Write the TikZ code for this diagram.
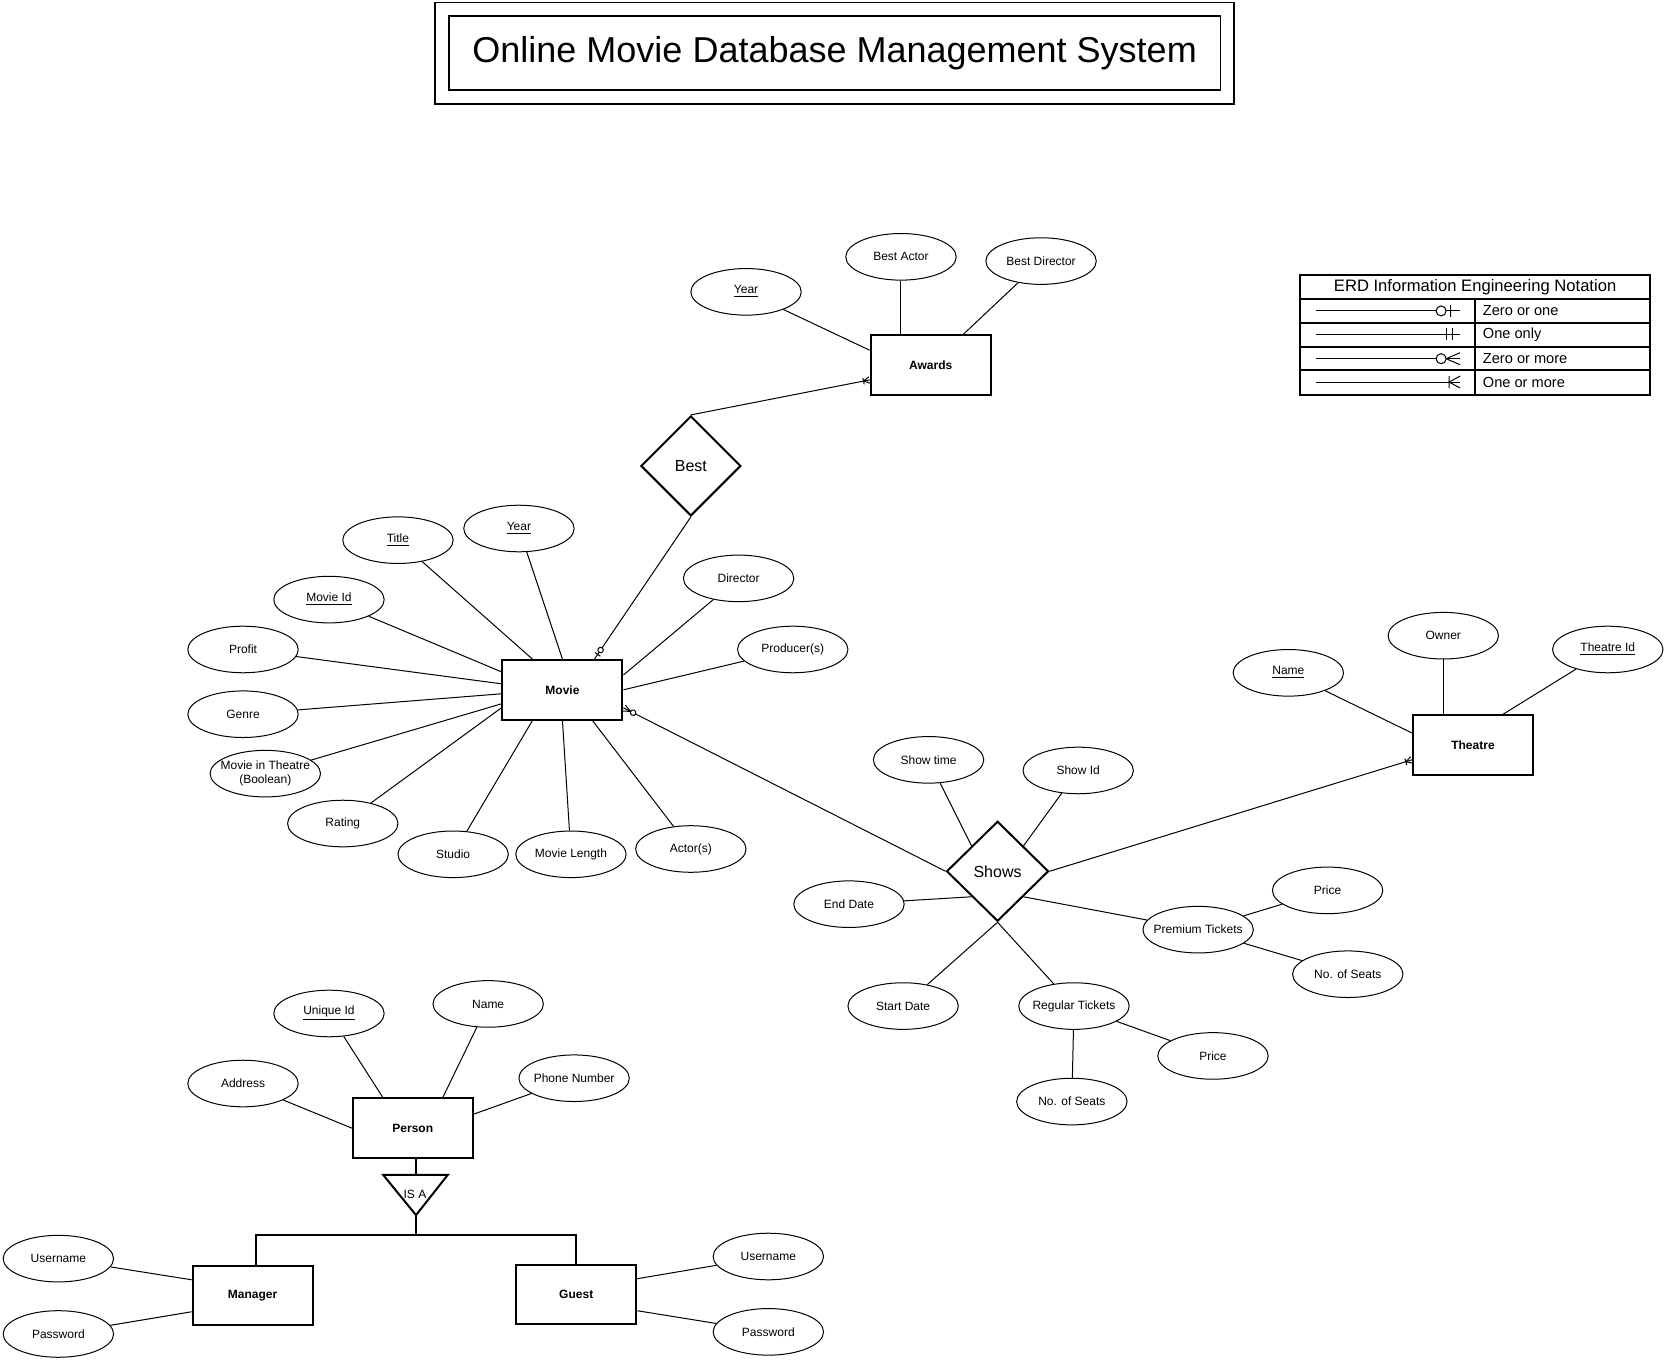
\documentclass[tikz,border=0pt]{standalone}
\usepackage{fontspec}
\setmainfont{Liberation Sans}
\usepackage{tikz}
\usetikzlibrary{shapes,decorations.markings}

\begin{document}
\begin{tikzpicture}[x=0.5306pt,y=-0.5306pt,
  zeroone/.style={postaction={decorate,decoration={markings,mark=at position 0.999 with {
      \draw[scale=#1,fill=white] (-4.8pt,-3pt) -- (-4.8pt,3pt) (-9.5pt,0) circle (2.5pt);}}}},
  oneonly/.style={postaction={decorate,decoration={markings,mark=at position 0.999 with {
      \draw[scale=#1] (-6.6pt,-3pt) -- (-6.6pt,3pt) (-3.7pt,-3pt) -- (-3.7pt,3pt);}}}},
  zeromany/.style={postaction={decorate,decoration={markings,mark=at position 0.999 with {
      \draw[scale=#1] (0,-3pt) -- (-7pt,0) -- (0,3pt);
      \draw[scale=#1,fill=white] (-9.5pt,0) circle (2.5pt);}}}},
  onemany/.style={postaction={decorate,decoration={markings,mark=at position 0.999 with {
      \draw[scale=#1] (0,-3pt) -- (-5.5pt,0) -- (0,3pt) (-5.5pt,-3pt) -- (-5.5pt,3pt);}}}}]
  \tikzstyle{entity}=[rectangle,draw,line width=1pt,minimum width=60pt,minimum height=29.7pt,
                      font=\fontsize{6}{7}\selectfont\bfseries]
  \tikzstyle{attr}=[ellipse,draw,line width=0.5pt,minimum width=55.2pt,minimum height=23.3pt,
                    inner sep=0pt,inner xsep=-6pt,align=center,font=\fontsize{6}{7}\selectfont]
  \tikzstyle{relation}=[diamond,draw,line width=1pt,minimum width=50pt,minimum height=50pt,
                        inner sep=0pt,font=\fontsize{8}{9}\selectfont]
  \tikzstyle{every edge}=[draw,line width=0.5pt]
  \tikzstyle{link}=[line width=0.5pt]
  \tikzstyle{legline}=[line width=0.9pt]

  \useasboundingbox (0,0) rectangle (1568,1284);

  % title
  \node [draw,line width=0.8pt,minimum width=385.8pt,minimum height=37.1pt,
         font=\fontsize{18}{22}\selectfont] (title) at (786.5,50) {Online Movie Database Management System};
  \draw [line width=0.8pt] ([shift={(-6.4pt,6.4pt)}]title.north west)
        rectangle ([shift={(6.4pt,-6.4pt)}]title.south east);

  % legend
  \draw [legline] (1225,259) rectangle (1555,372);
  \draw [legline] (1225,282) -- (1555,282) (1225,304) -- (1555,304)
                  (1225,327) -- (1555,327) (1225,349) -- (1555,349) (1390,282) -- (1390,372);
  \node [font=\fontsize{8.3}{10}\selectfont] (legend) at (1390,271) {ERD Information Engineering Notation};
  \draw [link,zeroone=1]  (1240,293) -- (1376,293);
  \draw [link,oneonly=1]  (1240,315) -- (1376,315);
  \draw [link,zeromany=1] (1240,338) -- (1376,338);
  \draw [link,onemany=1]  (1240,360) -- (1376,360);
  \node [anchor=west,inner sep=0pt,font=\fontsize{7.3}{9}\selectfont] (zo) at (1397,293) {Zero or one};
  \node [anchor=west,inner sep=0pt,font=\fontsize{7.3}{9}\selectfont] (oo) at (1397,315) {One only};
  \node [anchor=west,inner sep=0pt,font=\fontsize{7.3}{9}\selectfont] (zm) at (1397,338) {Zero or more};
  \node [anchor=west,inner sep=0pt,font=\fontsize{7.3}{9}\selectfont] (om) at (1397,360) {One or more};

  % awards
  \node [entity] (awards) at (877,344) {Awards};
  \node [attr] (awyear) at (703,275) {\underline{Year}} edge ([yshift=7.4pt]awards.west);
  \node [attr] (bestactor) at (849,242) {Best Actor};
  \node [attr] (bestdirector) at (981,246) {Best Director} edge (awards);
  \draw [link] (bestactor) -- (bestactor |- awards.north);

  \node [relation] (best) at (651,439) {Best};

  % movie
  \node [entity] (movie) at (530,650) {Movie};
  \node [attr] (mvtitle) at (375,509) {\underline{Title}} edge ([xshift=-15pt]movie.north);
  \node [attr] (mvyear) at (489,498) {\underline{Year}} edge (movie.north);
  \node [attr] (movieid) at (310,565) {\underline{Movie Id}} edge ([yshift=9pt]movie.west);
  \node [attr] (profit) at (229,612) {Profit} edge ([yshift=3pt]movie.west);
  \node [attr] (genre) at (229,673) {Genre} edge ([yshift=-2pt]movie.west);
  \node [attr] (intheatre) at (250,729) {Movie in Theatre\\(Boolean)} edge ([yshift=-7pt]movie.west);
  \node [attr] (rating) at (323,776) {Rating} edge ([yshift=-9pt]movie.west);
  \node [attr] (studio) at (427,805) {Studio} edge ([xshift=-15pt]movie.south);
  \node [attr] (length) at (538,805) {Movie Length} edge (movie.south);
  \node [attr] (actors) at (651,800) {Actor(s)} edge ([xshift=15pt]movie.south);
  \node [attr] (director) at (696,545) {Director} edge ([yshift=7.4pt]movie.east);
  \node [attr] (producers) at (747,612) {Producer(s)} edge (movie.east);

  \draw [link,onemany=0.55] (best.north) -- ([yshift=-7.4pt]awards.west);
  \draw [link,zeroone=0.55] (best.south) -- ([xshift=16pt]movie.north);

  % theatre
  \node [entity] (theatre) at (1388,702) {Theatre};
  \node [attr] (thname) at (1214,634) {\underline{Name}} edge ([yshift=6pt]theatre.west);
  \node [attr] (owner) at (1360,599) {Owner};
  \node [attr] (theatreid) at (1515,612) {\underline{Theatre Id}} edge ([xshift=15pt]theatre.north);
  \draw [link] (owner) -- (owner |- theatre.north);

  % shows
  \node [relation,minimum width=51pt] (shows) at (940,821) {Shows};
  \node [attr] (showtime) at (875,716) {Show time} edge (shows.north west);
  \node [attr] (showid) at (1016,726) {Show Id} edge (shows.north east);
  \node [attr] (enddate) at (800,852) {End Date} edge (shows.south west);
  \node [attr] (startdate) at (851,948) {Start Date} edge (shows.south);
  \node [attr] (regular) at (1012,948) {Regular Tickets} edge (shows.south);
  \node [attr] (premium) at (1129,876) {Premium Tickets} edge (shows.south east);
  \node [attr] (prprice) at (1251,839) {Price} edge (premium);
  \node [attr] (prseats) at (1270,918) {No. of Seats} edge (premium);
  \node [attr] (rgprice) at (1143,995) {Price} edge (regular);
  \node [attr] (rgseats) at (1010,1038) {No. of Seats} edge (regular);

  \draw [link,zeromany=0.55] (shows.west) -- ([yshift=-9pt]movie.east);
  \draw [link,onemany=0.55] (shows.east) -- ([yshift=-7.4pt]theatre.west);

  % person
  \node [entity] (person) at (389,1063) {Person};
  \node [attr] (uniqueid) at (310,955) {\underline{Unique Id}} edge ([xshift=-15pt]person.north);
  \node [attr] (psname) at (460,946) {Name} edge ([xshift=15pt]person.north);
  \node [attr] (address) at (229,1021) {Address} edge (person.west);
  \node [attr] (phone) at (541,1016) {Phone Number} edge ([yshift=7pt]person.east);

  \coordinate (isatop) at (392,1107);
  \coordinate (isaapex) at (392,1145);
  \coordinate (fork) at (392,1164);
  \draw [line width=1pt] (361,1107) -- (422,1107) -- (isaapex) -- cycle;
  \node [font=\fontsize{6}{7}\selectfont] (isa) at (391,1125) {IS A};
  \draw [line width=1pt] (isatop |- person.south) -- (isatop);

  \node [entity] (manager) at (238,1221) {Manager};
  \node [entity] (guest) at (543,1220) {Guest};
  \draw [line width=1pt] (isaapex) -- (fork);
  \draw [line width=1pt] ([xshift=1.6pt]manager.north) |- (fork) -| (guest.north);

  \node [attr] (mguser) at (55,1186) {Username} edge ([yshift=8pt]manager.west);
  \node [attr] (mgpass) at (55,1257) {Password} edge ([yshift=-8pt]manager.west);
  \node [attr] (gsuser) at (724,1184) {Username} edge ([yshift=8pt]guest.east);
  \node [attr] (gspass) at (724,1255) {Password} edge ([yshift=-8pt]guest.east);
\end{tikzpicture}
\end{document}
